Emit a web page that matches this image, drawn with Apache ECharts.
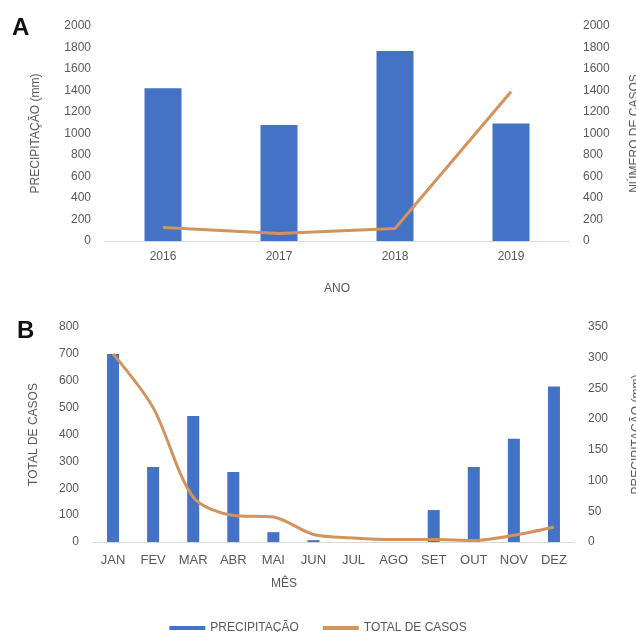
<!DOCTYPE html>
<html>
<head>
<meta charset="utf-8">
<script src="https://cdn.jsdelivr.net/npm/echarts@6/dist/echarts.min.js"></script>
<style>html,body{margin:0;padding:0;background:#fff;}#c{width:636px;height:632px;}</style>
</head>
<body>
<div id="c"></div>
<script>
// Panel A (annual)
const anos = ['2016', '2017', '2018', '2019'];
const precipAnual = [1420, 1078, 1767, 1094];
const casosAnual = [125, 69, 116, 1388];

// Panel B (monthly)
const meses = ['JAN', 'FEV', 'MAR', 'ABR', 'MAI', 'JUN', 'JUL', 'AGO', 'SET', 'OUT', 'NOV', 'DEZ'];
const precipMensal = [306, 122, 205, 114, 16, 3, 0, 0, 52, 122, 168, 253];
const casosMensal = [700, 500, 167, 99, 93, 28, 15, 9, 9, 6, 25, 56];

const txt = '#595959';
const font = 'Liberation Sans';
const barColor = '#4472C4';
const lineColor = '#D2935E';

const chart = echarts.init(document.getElementById('c'), null, {renderer: 'canvas'});
const yCommon = {
  type: 'value',
  axisLine: {show: false},
  axisTick: {show: false},
  splitLine: {show: false},
  nameLocation: 'middle',
  nameRotate: 90,
  nameTextStyle: {color: txt, fontSize: 12, fontFamily: font},
  axisLabel: {color: txt, fontSize: 12, fontFamily: font, margin: 14, formatter: function (v) { return String(v); }}
};
const xCommon = {
  type: 'category',
  axisLine: {show: true, lineStyle: {color: '#d9d9d9', width: 1}},
  axisTick: {show: false},
  splitLine: {show: false}
};

chart.setOption({
  animation: false,
  backgroundColor: '#fff',
  textStyle: {fontFamily: font},
  grid: [
    {left: 105, right: 67, top: 26, height: 215, outerBoundsMode: 'none', containLabel: false},
    {left: 93, right: 62, top: 327, height: 215, outerBoundsMode: 'none', containLabel: false}
  ],
  legend: {
    left: 'center', top: 617,
    itemWidth: 36, itemHeight: 4, itemGap: 24,
    textStyle: {color: txt, fontSize: 12, fontFamily: font},
    data: [{name: 'PRECIPITAÇÃO', icon: 'rect'}, {name: 'TOTAL DE CASOS', icon: 'rect'}]
  },
  xAxis: [
    Object.assign({}, xCommon, {
      gridIndex: 0, data: anos,
      name: 'ANO', nameLocation: 'middle', nameGap: 42,
      nameTextStyle: {color: txt, fontSize: 12, fontFamily: font},
      axisLabel: {color: txt, fontSize: 12, fontFamily: font, margin: 10}
    }),
    Object.assign({}, xCommon, {
      gridIndex: 1, data: meses,
      axisLabel: {color: txt, fontSize: 13, fontFamily: font, margin: 12, interval: 0}
    })
  ],
  yAxis: [
    Object.assign({}, yCommon, {gridIndex: 0, position: 'left', min: 0, max: 2000, interval: 200, name: 'PRECIPITAÇÃO (mm)', nameGap: 63}),
    Object.assign({}, yCommon, {gridIndex: 0, position: 'right', min: 0, max: 2000, interval: 200, name: 'NÚMERO DE CASOS', nameGap: 60}),
    Object.assign({}, yCommon, {gridIndex: 1, position: 'left', min: 0, max: 800, interval: 100, name: 'TOTAL DE CASOS', nameGap: 53}),
    Object.assign({}, yCommon, {gridIndex: 1, position: 'right', min: 0, max: 350, interval: 50, name: 'PRECIPITAÇÃO (mm)', nameGap: 57})
  ],
  graphic: [
    {type: 'text', left: 12, top: 16, style: {text: 'A', fontSize: 24, fontWeight: 'bold', fontFamily: font, fill: '#111'}},
    {type: 'text', left: 17, top: 319, style: {text: 'B', fontSize: 24, fontWeight: 'bold', fontFamily: font, fill: '#111'}},
    {type: 'text', left: 271, top: 578, style: {text: 'MÊS', fontSize: 12, fontFamily: font, fill: txt}}
  ],
  series: [
    {name: 'PRECIPITAÇÃO', type: 'bar', xAxisIndex: 0, yAxisIndex: 0, data: precipAnual, barWidth: 37, itemStyle: {color: barColor}},
    {name: 'TOTAL DE CASOS', type: 'line', xAxisIndex: 0, yAxisIndex: 1, data: casosAnual, symbol: 'none', lineStyle: {color: lineColor, width: 3}, itemStyle: {color: lineColor}},
    {name: 'PRECIPITAÇÃO', type: 'bar', xAxisIndex: 1, yAxisIndex: 3, data: precipMensal, barWidth: 12, itemStyle: {color: barColor}},
    {name: 'TOTAL DE CASOS', type: 'line', xAxisIndex: 1, yAxisIndex: 2, data: casosMensal, symbol: 'none', smooth: 0.3, lineStyle: {color: lineColor, width: 3}, itemStyle: {color: lineColor}}
  ]
});
</script>
</body>
</html>
